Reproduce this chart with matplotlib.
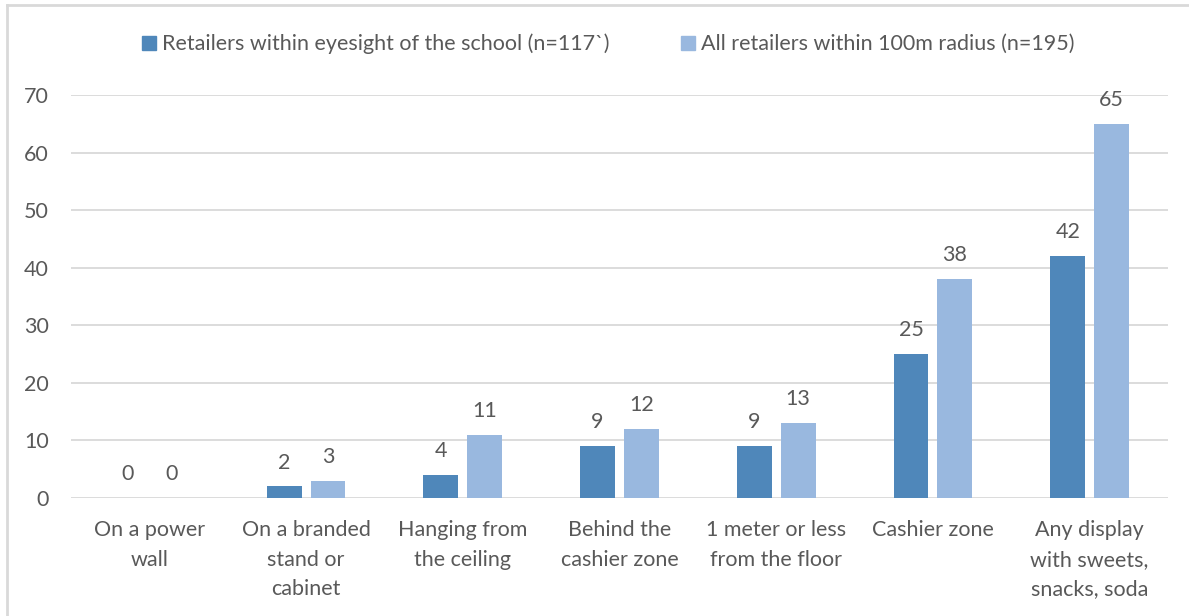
import matplotlib.pyplot as plt
import numpy as np
from matplotlib.lines import Line2D

# Placement of promotional displays, counts of retailers
categories = [
    "On a power\nwall",
    "On a branded\nstand or\ncabinet",
    "Hanging from\nthe ceiling",
    "Behind the\ncashier zone",
    "1 meter or less\nfrom the floor",
    "Cashier zone",
    "Any display\nwith sweets,\nsnacks, soda",
]
eyesight = [0, 2, 4, 9, 9, 25, 42]
radius_100m = [0, 3, 11, 12, 13, 38, 65]
series_names = [
    "Retailers within eyesight of the school (n=117`)",
    "All retailers within 100m radius (n=195)",
]

DARK = "#4F87BA"
LIGHT = "#99B8DF"
GRID = "#D9D9D9"
TEXT = "#595959"
FS = 15.5

plt.rcParams["font.family"] = ["Lato", "DejaVu Sans"]

fig = plt.figure(figsize=(11.89, 6.16), dpi=100)
ax = fig.add_axes([71 / 1189, 118 / 616, 1097 / 1189, 403 / 616])

x = np.arange(len(categories))
w = 0.223
off = 0.14
b1 = ax.bar(x - off, eyesight, w, color=DARK, zorder=3)
b2 = ax.bar(x + off, radius_100m, w, color=LIGHT, zorder=3)

for bars, vals in ((b1, eyesight), (b2, radius_100m)):
    for rect, v in zip(bars, vals):
        ax.annotate(str(v), (rect.get_x() + rect.get_width() / 2, v),
                    xytext=(0, 10), textcoords="offset points",
                    ha="center", va="bottom", fontsize=FS, color=TEXT)

ax.set_xlim(-0.5, len(categories) - 0.5)
ax.set_ylim(0, 70)
ax.set_yticks(range(0, 71, 10))
ax.set_xticks(x)
ax.set_xticklabels(categories, linespacing=1.6)
ax.tick_params(axis="both", length=0, labelsize=FS, labelcolor=TEXT)
ax.tick_params(axis="x", pad=16)
ax.tick_params(axis="y", pad=16)
ax.grid(axis="y", color=GRID, linewidth=1.3, zorder=0)
for s in ax.spines.values():
    s.set_visible(False)

handles = [plt.Rectangle((0, 0), 1, 1, color=DARK),
           plt.Rectangle((0, 0), 1, 1, color=LIGHT)]
leg = fig.legend(handles, series_names, loc="center", ncol=2,
                 bbox_to_anchor=(608 / 1189, 1 - 44 / 616), frameon=False,
                 fontsize=FS, handlelength=0.65, handleheight=0.65,
                 handletextpad=0.3, columnspacing=3.3)
for t in leg.get_texts():
    t.set_color(TEXT)

# thin frame along the top and left edge
fig.add_artist(Line2D([7 / 1189, 1], [1 - 5 / 616, 1 - 5 / 616],
                      transform=fig.transFigure, color=GRID, linewidth=2))
fig.add_artist(Line2D([7 / 1189, 7 / 1189], [0, 1 - 5 / 616],
                      transform=fig.transFigure, color=GRID, linewidth=2))

fig.savefig("out.png", dpi=100)
